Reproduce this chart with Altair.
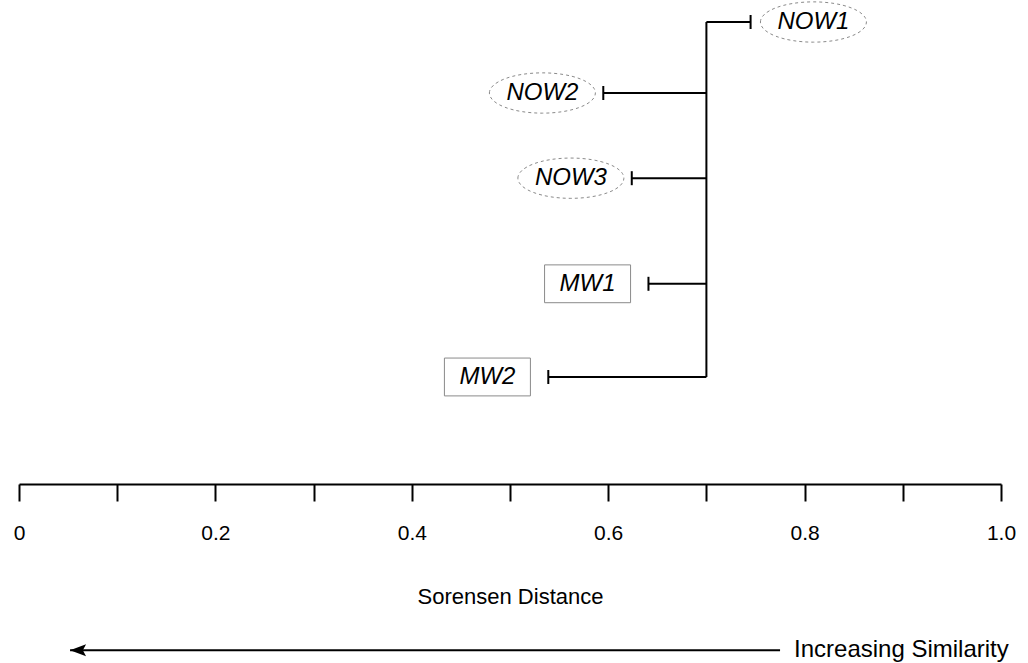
import altair as alt
import pandas as pd

# ---- data ----
leaves = ["NOW1", "NOW2", "NOW3", "MW1", "MW2"]
leaf_distance = [0.745, 0.595, 0.624, 0.641, 0.539]   # Sorensen distance at leaf end
leaf_row = [0.0, 0.8, 1.76, 2.95, 4.0]                 # vertical order of the leaves
label_side = ["right", "left", "left", "left", "left"]
group = ["NOW", "NOW", "NOW", "MW", "MW"]
node_distance = [0.70]
tick_values = [0, 0.1, 0.2, 0.3, 0.4, 0.5, 0.6, 0.7, 0.8, 0.9, 1.0]

arrow_from = [0.775]
arrow_to = [0.052]
arrow_row = [7.08]
arrow_label = ["Increasing Similarity"]

leaf_df = pd.DataFrame({
    "leaf": leaves, "d": leaf_distance, "row": leaf_row,
    "side": label_side, "group": group,
})
leaf_df["node"] = node_distance[0]

node_df = pd.DataFrame({
    "node": node_distance,
    "top": [min(leaf_row)],
    "bottom": [max(leaf_row)],
})

arrow_df = pd.DataFrame({
    "x1": arrow_from, "x2": arrow_to, "row": arrow_row, "label": arrow_label,
})

FONT = "Liberation Sans"

xscale = alt.Scale(domain=[0, 1], nice=False, zero=False)
yscale = alt.Scale(domain=[-0.248, 5.206], nice=False, zero=False, reverse=True)

xaxis = alt.Axis(
    values=tick_values,
    labelExpr="round(datum.value*10) % 2 == 0 ? (datum.value == 0 ? '0' : format(datum.value, '.1f')) : ''",
    domainColor="black", domainWidth=2,
    tickColor="black", tickWidth=2, tickSize=17,
    labelFont=FONT, labelFontSize=21, labelColor="black",
    labelBaseline="alphabetic", labelPadding=38,
    labelFlush=False, labelOverlap=False, grid=False,
    titleFont=FONT, titleFontSize=22, titleFontWeight="normal", titleColor="black",
    titleBaseline="alphabetic", titleY=119,
)


def X(field):
    return alt.X(field, type="quantitative", scale=xscale, axis=xaxis, title="Sorensen Distance")


def Y(field):
    return alt.Y(field, type="quantitative", scale=yscale, axis=None)


base_leaf = alt.Chart(leaf_df).transform_calculate(
    lx="datum.side == 'right' ? datum.d + 0.064 : datum.d - 0.062"
)

branches = alt.Chart(leaf_df).mark_rule(color="black", strokeWidth=2).encode(
    x=X("d"), x2="node:Q", y=Y("row")
)

trunk = alt.Chart(node_df).mark_rule(color="black", strokeWidth=2).encode(
    x=X("node"), y=Y("top"), y2="bottom:Q"
)

leaf_ends = alt.Chart(leaf_df).mark_point(
    shape="M 0 -1 L 0 1", size=196, strokeWidth=2, color="black", filled=False, opacity=1
).encode(x=X("d"), y=Y("row"))

ellipse_path = ("M -1 0 C -1 -0.21 -0.552 -0.38 0 -0.38 C 0.552 -0.38 1 -0.21 1 0 "
                "C 1 0.21 0.552 0.38 0 0.38 C -0.552 0.38 -1 0.21 -1 0 Z")
ellipses = base_leaf.transform_filter("datum.group == 'NOW'").mark_point(
    shape=ellipse_path, size=106 * 106, filled=False, color="#8a8a8a",
    strokeWidth=1, strokeDash=[3, 3], opacity=1
).encode(x=X("lx"), y=Y("row"))

boxes = base_leaf.transform_filter("datum.group == 'MW'").mark_point(
    shape="M -1 -0.44 L 1 -0.44 L 1 0.44 L -1 0.44 Z", size=86 * 86, filled=False,
    color="#8a8a8a", strokeWidth=1, opacity=1
).encode(x=X("lx"), y=Y("row"))

labels = base_leaf.mark_text(
    font=FONT, fontSize=24, fontStyle="italic", color="black",
    align="center", baseline="middle"
).encode(x=X("lx"), y=Y("row"), text="leaf:N")

arrow_line = alt.Chart(arrow_df).mark_rule(color="black", strokeWidth=2).encode(
    x=X("x1"), x2="x2:Q", y=Y("row")
)
arrow_head = alt.Chart(arrow_df).mark_point(
    shape="M -1 0 L 1 -0.75 L 0.6 0 L 1 0.75 Z", size=256, filled=True, color="black",
    strokeWidth=0, opacity=1
).encode(x=X("x2"), y=Y("row"), xOffset=alt.value(8))

arrow_text = alt.Chart(arrow_df).mark_text(
    font=FONT, fontSize=24, color="black", align="left", baseline="middle", dx=14
).encode(x=X("x1"), y=Y("row"), text="label:N")

chart = alt.layer(
    branches, trunk, leaf_ends, ellipses, boxes, labels, arrow_line, arrow_head, arrow_text
).properties(
    width=982, height=484,
    autosize=alt.AutoSizeParams(type="none"),
    padding={"left": 19, "top": 0, "right": 27, "bottom": 179},
    background="white",
).configure_view(stroke=None)

chart.save("out.html", embed_options={"renderer": "svg", "actions": False})
